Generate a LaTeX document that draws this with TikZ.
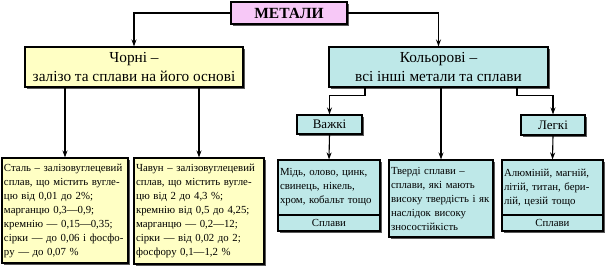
\documentclass[tikz,border=0pt]{standalone}
\usepackage{fontspec}
\setmainfont{Liberation Serif}
\usetikzlibrary{shadows,arrows.meta}
\definecolor{pinkf}{RGB}{247,200,247}
\definecolor{yelf}{RGB}{255,255,196}
\definecolor{cyanf}{RGB}{190,232,232}
\begin{document}
\begin{tikzpicture}[x=1pt,y=-1pt,
  box/.style={draw=black,line width=1.1pt,inner sep=0pt,align=center,
    drop shadow={shadow xshift=1.8pt,shadow yshift=-1.8pt,fill=black!65,opacity=1}},
  hdr/.style={font=\fontsize{15.3}{18.5}\selectfont},
  txt/.style={font=\fontsize{10.8}{14}\selectfont,align=left,inner xsep=2pt},
  arr/.style={line width=1.1pt,-{Stealth[length=7pt,width=5pt]}}]
\fill[white] (0,0) rectangle (605,267);
\useasboundingbox (0,0) rectangle (605,267);
% top
\node[box,fill=pinkf,minimum width=116pt,minimum height=22pt,font=\fontsize{15.5}{18}\selectfont\bfseries] (met) at (289,13) {МЕТАЛИ};
\node[box,hdr,fill=yelf,minimum width=218pt,minimum height=40pt] (chor) at (134,67) {Чорні –\\залізо та сплави на його основі};
\node[box,hdr,fill=cyanf,minimum width=219pt,minimum height=40pt] (kol) at (438.5,67) {Кольорові –\\всі інші метали та сплави};
% black metals
\node[box,txt,fill=yelf,minimum width=126pt,minimum height=105pt,text width=122pt] (stal) at (65,210.5) {Сталь – залізовуглецевий\\сплав, що містить вугле-\\цю від 0,01 до 2\%;\\марганцю 0,3—0,9;\\кремнію — 0,15—0,35;\\сірки — до 0,06 і фосфо-\\ру — до 0,07 \%};
\node[box,txt,fill=yelf,minimum width=130pt,minimum height=106pt,text width=126pt] (chav) at (199,211) {Чавун – залізовуглецевий\\сплав, що містить вугле-\\цю від 2 до 4,3 \%;\\кремнію від 0,5 до 4,25;\\марганцю — 0,2—12;\\сірки — від 0,02 до 2;\\фосфору 0,1—1,2 \%};
% non-ferrous
\node[box,fill=cyanf,minimum width=65pt,minimum height=19pt,font=\fontsize{13}{15}\selectfont] (vaz) at (329.5,124.5) {Важкі};
\node[box,fill=cyanf,minimum width=64pt,minimum height=20pt,font=\fontsize{13}{15}\selectfont] (leg) at (553,125) {Легкі};
\node[box,txt,fill=cyanf,minimum width=102pt,minimum height=55pt,text width=98pt] (midt) at (329,187.5) {Мідь, олово, цинк,\\свинець, нікель,\\хром, кобальт тощо};
\node[box,fill=cyanf,minimum width=102pt,minimum height=16pt,font=\fontsize{10.8}{14}\selectfont] (midb) at (329,223) {Сплави};
\node[box,txt,fill=cyanf,minimum width=104pt,minimum height=77pt,text width=100pt] (tv) at (441,198.5) {Тверді сплави –\\сплави, які мають\\високу твердість і як\\наслідок високу\\зносостійкість};
\node[box,txt,fill=cyanf,minimum width=101pt,minimum height=55pt,text width=97pt] (alut) at (552.5,187.5) {Алюміній, магній,\\літій, титан, бери-\\лій, цезій тощо};
\node[box,fill=cyanf,minimum width=101pt,minimum height=16pt,font=\fontsize{10.8}{14}\selectfont] (alub) at (552.5,223) {Сплави};
% connectors
\draw[arr] (met.west) -| (chor.north);
\draw[arr] (met.east) -| (kol.north);
\draw[arr] (chor.south -| stal.north) -- (stal.north);
\draw[arr] (chor.south -| chav.north) -- (chav.north);
\draw[arr] ([xshift=-73.5pt]kol.south) -- ++(0,8) -| (vaz.north);
\draw[arr] ([xshift=78.5pt]kol.south) -- ++(0,8) -| (leg.north);
\draw[arr] (kol.south -| tv.north) -- (tv.north);
\draw[arr] (vaz.south) -- (midt.north);
\draw[arr] (leg.south) -- (alut.north);
\end{tikzpicture}
\end{document}
